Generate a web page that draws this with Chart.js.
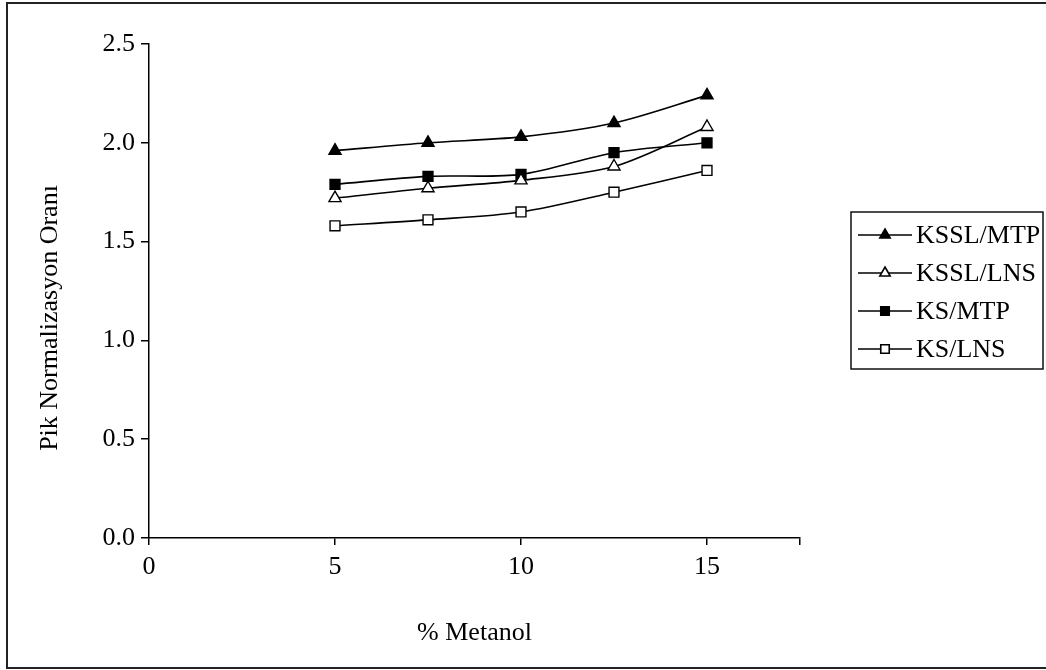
<!DOCTYPE html>
<html>
<head>
<meta charset="utf-8">
<script src="https://cdn.jsdelivr.net/npm/chart.js@4.4.1/dist/chart.umd.min.js"></script>
<style>
  html, body { margin: 0; padding: 0; background: #fff; }
  #wrap { position: relative; width: 1046px; height: 670px; }
  canvas { display: block; }
</style>
</head>
<body>
<div id="wrap"><canvas id="c" width="1046" height="670"></canvas></div>
<script>
// ---- data ----
const metanol = [5, 7.5, 10, 12.5, 15];
const ksslMtp = [1.96, 2.00, 2.03, 2.10, 2.24];
const ksslLns = [1.72, 1.77, 1.81, 1.88, 2.08];
const ksMtp   = [1.79, 1.83, 1.84, 1.95, 2.00];
const ksLns   = [1.58, 1.61, 1.65, 1.75, 1.86];
const seriesNames = ['KSSL/MTP', 'KSSL/LNS', 'KS/MTP', 'KS/LNS'];
const xTickValues = [0, 5, 10, 15, 17.5];
const xTickLabels = ['0', '5', '10', '15', ''];
const yTickValues = [0, 0.5, 1.0, 1.5, 2.0, 2.5];
const yTickLabels = ['0.0', '0.5', '1.0', '1.5', '2.0', '2.5'];
const xTitle = '% Metanol';
const yTitle = 'Pik Normalizasyon Oranı';

const FONT = '"Liberation Serif", "Times New Roman", serif';
const seriesValues = [ksslMtp, ksslLns, ksMtp, ksLns];
const styles = [
  { pointStyle: 'triangle', fill: '#000' },
  { pointStyle: 'triangle', fill: '#fff' },
  { pointStyle: 'rect', fill: '#000' },
  { pointStyle: 'rect', fill: '#fff' }
];

const datasets = seriesNames.map((name, i) => ({
  label: name,
  data: metanol.map((x, j) => ({ x: x, y: seriesValues[i][j] })),
  borderColor: '#000',
  borderWidth: 1.6,
  tension: 0.3,
  fill: false,
  pointStyle: styles[i].pointStyle,
  pointRadius: 7,
  pointHoverRadius: 7,
  pointBackgroundColor: styles[i].fill,
  pointBorderColor: '#000',
  pointBorderWidth: 1.4
}));

const framePlugin = {
  id: 'frame',
  beforeDraw(chart) {
    const ctx = chart.ctx;
    ctx.save();
    ctx.fillStyle = '#fff';
    ctx.fillRect(0, 0, chart.width, chart.height);
    ctx.strokeStyle = '#222';
    ctx.lineWidth = 2;
    ctx.beginPath();
    ctx.moveTo(1046, 3); ctx.lineTo(7, 3); ctx.lineTo(7, 668); ctx.lineTo(1046, 668);
    ctx.stroke();
    ctx.restore();
  }
};

// y-axis title placed as in the reference (slightly below the plot centre)
const yTitlePlugin = {
  id: 'yTitle',
  afterDraw(chart) {
    const ctx = chart.ctx;
    ctx.save();
    ctx.translate(50, 318);
    ctx.rotate(-Math.PI / 2);
    ctx.fillStyle = '#000';
    ctx.font = '26px ' + FONT;
    ctx.textAlign = 'center';
    ctx.textBaseline = 'middle';
    ctx.fillText(yTitle, 0, 0);
    ctx.restore();
  }
};

const legendPlugin = {
  id: 'boxLegend',
  afterDraw(chart) {
    const ctx = chart.ctx;
    ctx.save();
    ctx.strokeStyle = '#111';
    ctx.lineWidth = 1.5;
    ctx.strokeRect(851, 212, 192, 157);
    chart.data.datasets.forEach((ds, i) => {
      const y = 235 + i * 38;
      ctx.strokeStyle = '#000';
      ctx.lineWidth = 1.6;
      ctx.beginPath();
      ctx.moveTo(858, y); ctx.lineTo(912, y);
      ctx.stroke();
      ctx.fillStyle = ds.pointBackgroundColor;
      ctx.strokeStyle = '#000';
      const opts = { pointStyle: ds.pointStyle, radius: 6, rotation: 0, borderWidth: 1.4 };
      if (Chart.helpers && Chart.helpers.drawPoint) {
        Chart.helpers.drawPoint(ctx, opts, 885, y);
      }
      ctx.fillStyle = '#000';
      ctx.font = '26px ' + FONT;
      ctx.textBaseline = 'middle';
      ctx.textAlign = 'left';
      ctx.fillText(ds.label, 916, y + 1);
    });
    ctx.restore();
  }
};

new Chart(document.getElementById('c'), {
  type: 'line',
  data: { datasets: datasets },
  plugins: [framePlugin, legendPlugin, yTitlePlugin],
  options: {
    responsive: false,
    animation: false,
    devicePixelRatio: 1,
    layout: { padding: { left: 0, top: 44, right: 246, bottom: 0 } },
    plugins: { legend: { display: false }, tooltip: { enabled: false } },
    scales: {
      x: {
        type: 'linear',
        min: 0,
        max: 17.5,
        afterBuildTicks(scale) { scale.ticks = xTickValues.map(v => ({ value: v })); },
        afterFit(scale) { scale.height = 132; },
        grid: { drawOnChartArea: false, drawTicks: true, tickLength: 7, color: '#000', lineWidth: 1.5 },
        border: { color: '#000', width: 1.5 },
        ticks: {
          color: '#000',
          font: { family: FONT, size: 26 },
          padding: 7,
          maxRotation: 0,
          autoSkip: false,
          callback(v) { const k = xTickValues.indexOf(v); return k >= 0 ? xTickLabels[k] : ''; }
        },
        title: { display: true, text: xTitle, color: '#000', font: { family: FONT, size: 26 }, padding: { top: 0, bottom: 21 } }
      },
      y: {
        type: 'linear',
        min: 0,
        max: 2.5,
        afterBuildTicks(scale) { scale.ticks = yTickValues.map(v => ({ value: v })); },
        afterFit(scale) { scale.width = 149; },
        grid: { drawOnChartArea: false, drawTicks: true, tickLength: 8, color: '#000', lineWidth: 1.5 },
        border: { color: '#000', width: 1.5 },
        ticks: {
          color: '#000',
          font: { family: FONT, size: 26 },
          padding: 6,
          autoSkip: false,
          callback(v) { const k = yTickValues.indexOf(v); return k >= 0 ? yTickLabels[k] : ''; }
        },
        title: { display: false }
      }
    }
  }
});
</script>
</body>
</html>
